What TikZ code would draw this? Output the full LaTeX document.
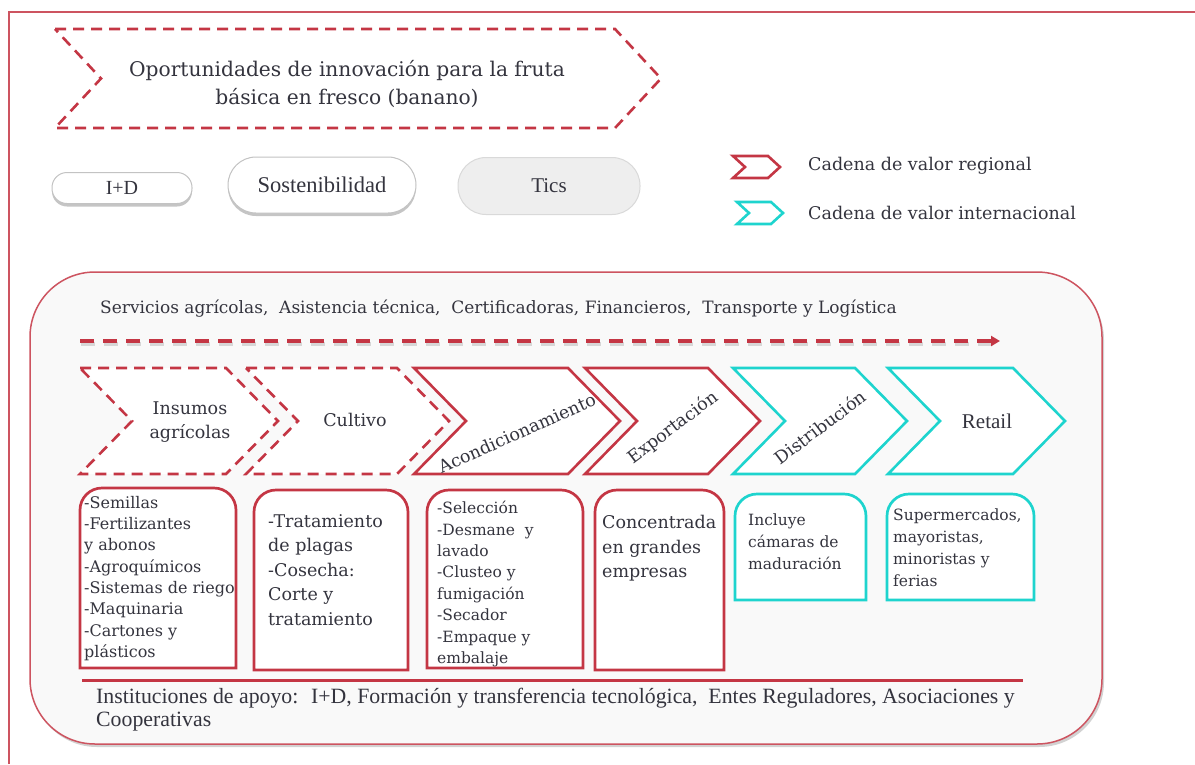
\documentclass[tikz,border=0pt]{standalone}
\usepackage{fontspec}
\setmainfont{DejaVu Serif}
\newfontfamily\condf{Liberation Serif}
\usetikzlibrary{arrows.meta,shadows}
\definecolor{mred}{RGB}{196,54,68}
\definecolor{mcyan}{RGB}{30,212,206}
\definecolor{txt}{RGB}{52,52,62}
\definecolor{bgfill}{RGB}{249,249,249}
\definecolor{pillgray}{RGB}{238,238,238}
\definecolor{pillline}{RGB}{195,195,195}
% chevron: style, left x, right body x, top y, bottom y, depth
\newcommand\chev[6]{\draw[#1] (#2,#4) -- (#3,#4) -- ({#3+#6},{(#4+#5)/2}) -- (#3,#5) -- (#2,#5) -- ({#2+#6},{(#4+#5)/2}) -- cycle;}
% box with rounded top corners: style, x1, y1, x2, y2
\newcommand\rtbox[5]{\draw[#1] (#2,#5) -- (#2,#3+22) arc[start angle=180,end angle=270,radius=22] -- (#4-22,#3) arc[start angle=270,end angle=360,radius=22] -- (#4,#5) -- cycle;}
\begin{document}
\begin{tikzpicture}[x=1pt,y=-1pt,
  every node/.style={text=txt, inner sep=0pt},
  dashchev/.style={draw=mred, line width=2.6pt, dash pattern=on 11pt off 7pt, fill=white},
  redchev/.style={draw=mred, line width=2.6pt, fill=white},
  cyanchev/.style={draw=mcyan, line width=2.6pt, fill=white},
  redbox/.style={draw=mred, line width=2.7pt, fill=white},
  cyanbox/.style={draw=mcyan, line width=2.7pt, fill=white},
  pill/.style={draw=pillline, line width=1pt, fill=white, drop shadow={shadow xshift=0pt, shadow yshift=-3pt, opacity=.45}},
  boxtext/.style={anchor=north west, align=left},
  chevtext/.style={font=\fontsize{17.5}{24}\selectfont, align=center},
]
\useasboundingbox (0,0) rectangle (1195,764);
\fill[white] (0,0) rectangle (1195,764);
% frame
\draw[mred!85, line width=1.5pt] (9,764) -- (9,12) -- (1195,12);

% title chevron
\chev{dashchev}{55}{615}{29}{128}{46}
\node[align=center, font=\fontsize{20.2}{28}\selectfont] (title) at (347,84) {Oportunidades de innovación para la fruta\\básica en fresco (banano)};

% pills
\node[pill, rounded corners=15pt, minimum width=140pt, minimum height=31pt, font=\condf\fontsize{20}{24}\selectfont] (id) at (122,188) {I+D};
\node[pill, rounded corners=28pt, minimum width=188pt, minimum height=56pt, font=\condf\fontsize{22.5}{24}\selectfont] (sost) at (322,185) {Sostenibilidad};
\node[draw=black!15, line width=1pt, fill=pillgray, rounded corners=28pt, minimum width=182pt, minimum height=57pt, font=\condf\fontsize{21}{24}\selectfont] (tics) at (549,186) {Tics};

% legend
\chev{redchev}{733}{768}{156}{178}{12}
\chev{cyanchev}{737}{771}{202}{224}{12}
\node[anchor=west, font=\fontsize{17.5}{20}\selectfont] (lreg) at (808,166) {Cadena de valor regional};
\node[anchor=west, font=\fontsize{17.5}{20}\selectfont] (lint) at (808,213) {Cadena de valor internacional};

% big container
\draw[draw=mred!85, line width=1.5pt, fill=bgfill, rounded corners=65pt, drop shadow={shadow xshift=2pt, shadow yshift=-3pt, opacity=.35}] (30,272) rectangle (1102,744);

\node[anchor=west, font=\fontsize{17}{20}\selectfont] (serv) at (100,309) {Servicios agrícolas, \ Asistencia técnica, \ Certificadoras, Financieros, \ Transporte y Logística};

% dashed arrow
\coordinate (sa) at (80,341);
\coordinate (sb) at (1000,341);
\draw[black!35, opacity=.4, line width=3.5pt, dash pattern=on 14pt off 9pt] ([shift={(1,3)}]sa) -- ([shift={(1,3)}]sb);
\draw[mred, line width=3.5pt, dash pattern=on 14pt off 9pt, -{Triangle[length=9pt,width=10pt]}] (sa) -- (sb);

% chevrons row
\chev{dashchev}{80}{226}{368}{474}{52}
\chev{dashchev}{246}{397}{368}{474}{52}
\chev{redchev}{414}{568}{368}{474}{52}
\chev{redchev}{585}{708}{368}{474}{52}
\chev{cyanchev}{733}{855}{368}{474}{52}
\chev{cyanchev}{888}{1013}{368}{474}{52}
\node[chevtext] (c1) at (190,422) {Insumos\\agrícolas};
\node[chevtext] (c2) at (355,420) {Cultivo};
\node[chevtext, rotate=24] (c3) at (517,433) {Acondicionamiento};
\node[chevtext, rotate=37] (c4) at (673,428) {Exportación};
\node[chevtext, rotate=37] (c5) at (820,427) {Distribución};
\node[font=\condf\fontsize{21}{24}\selectfont] (c6) at (987,421) {Retail};

% detail boxes
\rtbox{redbox}{80}{488}{236}{668}
\rtbox{redbox}{254}{490}{408}{670}
\rtbox{redbox}{427}{490}{583}{668}
\rtbox{redbox}{595}{490}{724}{670}
\rtbox{cyanbox}{735}{494}{866}{600}
\rtbox{cyanbox}{887}{494}{1034}{600}

\node[boxtext, font=\fontsize{16}{21.3}\selectfont] (b1) at (84,496) {-Semillas\\-Fertilizantes\\y abonos\\-Agroquímicos\\-Sistemas de riego\\-Maquinaria\\-Cartones y\\plásticos};
\node[boxtext, font=\fontsize{17.5}{24.5}\selectfont] (b2) at (268,514) {-Tratamiento\\de plagas\\-Cosecha:\\Corte y\\tratamiento};
\node[boxtext, font=\fontsize{15.5}{21.4}\selectfont] (b3) at (437,501) {-Selección\\-Desmane~~y\\lavado\\-Clusteo y\\fumigación\\-Secador\\-Empaque y\\embalaje};
\node[boxtext, font=\fontsize{17.5}{24.5}\selectfont] (b4) at (602,515) {Concentrada\\en grandes\\empresas};
\node[boxtext, font=\fontsize{15.5}{22}\selectfont] (b5) at (748,514) {Incluye\\cámaras de\\maduración};
\node[boxtext, font=\fontsize{15.5}{21.7}\selectfont] (b6) at (893,509) {Supermercados,\\mayoristas,\\minoristas y\\ferias};

% separator line
\coordinate (la) at (82,680);
\coordinate (lb) at (1023,680);
\draw[mred, line width=3pt] (la) -- (lb);

\node[anchor=north west, align=left, font=\condf\fontsize{21.8}{23}\selectfont] (inst) at (96,688) {Instituciones de apoyo: \ I+D, Formación y transferencia tecnológica, \ Entes Reguladores, Asociaciones y\\Cooperativas};
\end{tikzpicture}
\end{document}
